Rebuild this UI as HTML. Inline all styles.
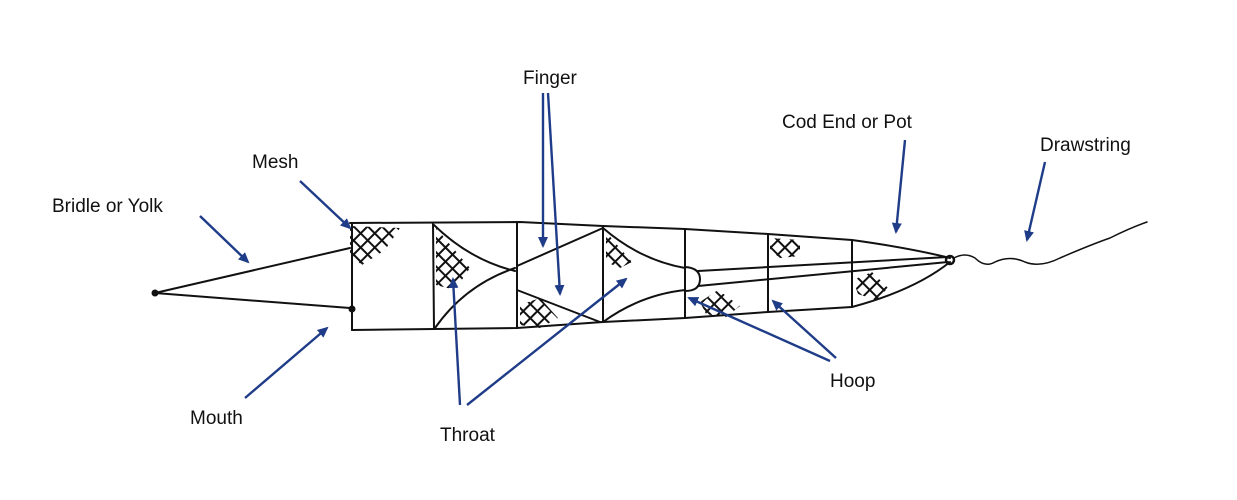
<!DOCTYPE html>
<html><head><meta charset="utf-8"><style>
html,body{margin:0;padding:0;background:#fff;width:1237px;height:500px;overflow:hidden}
svg{display:block}
text{font-family:"Liberation Sans",sans-serif;font-size:19px;fill:#111}
</style></head><body>
<svg width="1237" height="500" viewBox="0 0 1237 500">
<defs>
<pattern id="m" width="10" height="10" patternUnits="userSpaceOnUse" patternTransform="rotate(45)">
<rect x="0" y="0" width="10" height="10" fill="#fff" stroke="#111" stroke-width="2"/>
</pattern>
<marker id="a" markerWidth="11" markerHeight="10" refX="9" refY="5" orient="auto" markerUnits="userSpaceOnUse">
<path d="M0,0 L11,5 L0,10 Z" fill="#1f3c88"/>
</marker>
</defs>
<g stroke="none" fill="url(#m)">
<polygon points="350,226 400,228 385,250 362,265 350,255"/>
<polygon points="436,228 470,268 455,290 436,285"/>
<polygon points="520,305 540,298 558,318 540,328 520,325"/>
<polygon points="606,232 632,262 620,268 606,262"/>
<polygon points="700,302 718,290 740,306 725,318 706,314"/>
<polygon points="770,238 800,240 800,256 780,258 770,250"/>
<polygon points="853,280 872,272 888,288 876,300 858,294"/>
</g>
<g fill="none" stroke="#111" stroke-width="2" stroke-linecap="round">
<path d="M155,293 L350,248 M155,293 L350,308"/>
<circle cx="155" cy="293" r="2.5" fill="#111"/>
<path d="M350,223 L520,222 L603,226 L685,229 L768,234 L852,240 Q910,248 950,258"/>
<path d="M352,330 L517,328 L603,322 L685,318 L768,312 L852,307 Q915,290 950,262"/>
<path d="M352,223 L352,330 M433,224 L434,329 M517,222 L517,328 M603,226 L603,322 M685,229 L685,318 M768,234 L768,312 M852,240 L852,307"/>
<circle cx="352" cy="309" r="2.5" fill="#111"/>
<path d="M434,225 Q470,260 515,271"/>
<path d="M435,328 Q465,285 515,268"/>
<path d="M517,266 L603,228 M517,290 L600,322"/>
<path d="M603,228 Q640,260 685,268"/>
<path d="M603,322 Q640,295 685,290"/>
<path d="M685,267 Q700,268 700,279 Q700,291 685,291"/>
<path d="M698,271 L948,257 M698,286 L948,262"/>
<circle cx="950" cy="260" r="4" stroke-width="2.5"/>
<path d="M954,258 Q965,252 975,258 Q985,268 995,262 Q1010,255 1025,262 Q1040,268 1060,258 Q1090,245 1110,238 Q1130,228 1147,222" stroke-width="1.5"/>
</g>
<g stroke="#1f3c88" stroke-width="2.4" fill="none" marker-end="url(#a)">
<line x1="200" y1="216" x2="248" y2="262"/>
<line x1="300" y1="181" x2="350" y2="228"/>
<line x1="245" y1="398" x2="327" y2="328"/>
<line x1="543" y1="93" x2="543" y2="246"/>
<line x1="548" y1="93" x2="560" y2="294"/>
<line x1="460" y1="405" x2="453" y2="279"/>
<line x1="467" y1="405" x2="626" y2="279"/>
<line x1="905" y1="140" x2="896" y2="232"/>
<line x1="1045" y1="162" x2="1027" y2="240"/>
<line x1="830" y1="361" x2="689" y2="298"/>
<line x1="836" y1="358" x2="773" y2="301"/>
</g>
<text x="52" y="212">Bridle or Yolk</text>
<text x="252" y="168">Mesh</text>
<text x="190" y="424">Mouth</text>
<text x="523" y="84">Finger</text>
<text x="440" y="441">Throat</text>
<text x="782" y="128">Cod End or Pot</text>
<text x="1040" y="151">Drawstring</text>
<text x="830" y="387">Hoop</text>
</svg>
</body></html>
